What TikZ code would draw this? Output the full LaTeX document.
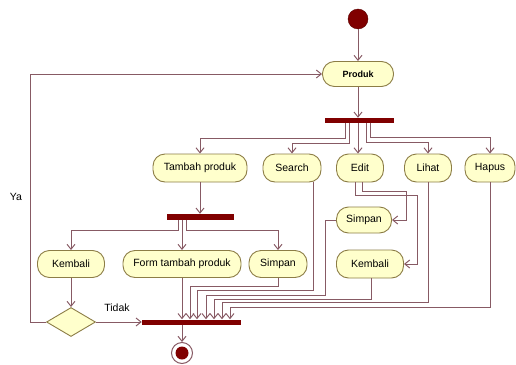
\documentclass[tikz,border=0pt]{standalone}
\usepackage{fontspec}
\setmainfont{Liberation Sans}
\usetikzlibrary{arrows.meta,shapes.geometric}
\definecolor{nfill}{RGB}{255,255,204}
\definecolor{nedge}{RGB}{140,125,70}
\definecolor{lcol}{RGB}{135,90,100}
\definecolor{barc}{RGB}{128,0,0}
\begin{document}
\begin{tikzpicture}[x=1pt,y=-1pt,
  act/.style={draw=nedge,fill=nfill,line width=0.9pt,rounded corners=12pt,
    minimum height=28pt,inner sep=0pt,font=\fontsize{10.5}{12}\selectfont},
  bar/.style={fill=barc,draw=none,minimum height=5pt,inner sep=0pt},
  flow/.style={draw=lcol,line width=1pt,-{Straight Barb[length=5pt,width=8pt]}},
  lbl/.style={font=\fontsize{10.5}{12}\selectfont,inner sep=0pt}]
\useasboundingbox (0,0) rectangle (516,364);
% nodes
\node[circle,fill=barc,draw=barc!70!black,minimum size=20pt,inner sep=0pt] (start) at (358,19) {};
\node[act,minimum width=71pt,minimum height=25pt,font=\fontsize{9}{11}\selectfont\bfseries] (produk) at (358,74) {Produk};
\node[bar,minimum width=69pt] (bar1) at (359,120.5) {};
\node[act,minimum width=94pt] (tambah) at (200,168) {Tambah produk};
\node[act,minimum width=58pt] (search) at (292,168) {Search};
\node[act,minimum width=47pt] (edit) at (360,168) {Edit};
\node[act,minimum width=47pt] (lihat) at (428,168) {Lihat};
\node[act,minimum width=50pt] (hapus) at (490,168) {Hapus};
\node[bar,minimum width=67pt,minimum height=6pt] (bar2) at (200,217) {};
\node[act,minimum width=67pt,minimum height=27pt] (kembali1) at (71,264) {Kembali};
\node[act,minimum width=118pt,minimum height=27pt] (form) at (182,264) {Form tambah produk};
\node[act,minimum width=58pt,minimum height=27pt] (simpan1) at (278,264) {Simpan};
\node[act,minimum width=55pt,minimum height=26pt] (simpan2) at (364,220) {Simpan};
\node[act,minimum width=67pt] (kembali2) at (370,264) {Kembali};
\node[diamond,draw=nedge,fill=nfill,line width=0.9pt,minimum width=49pt,minimum height=29pt,inner sep=0pt] (dec) at (71,322) {};
\node[bar,minimum width=99pt] (bar3) at (191.5,322) {};
\node[circle,draw=lcol,line width=1pt,fill=white,minimum size=21pt,inner sep=0pt] (end) at (182,353) {};
\node[circle,fill=barc,minimum size=13pt,inner sep=0pt] (endin) at (end.center) {};
\node[lbl] (ya) at (16,197) {Ya};
\node[lbl] (tidak) at (117,308) {Tidak};
% connectors
\draw[flow] (start) -- (produk);
\draw[flow] (produk.south) -- (produk.south |- bar1.north);
\draw[flow] (bar1.south -| 345,0) -- (345,138) -| (tambah.north);
\draw[flow] (bar1.south -| 349,0) -- (349,143) -| (search.north);
\draw[flow] (bar1.south -| 358,0) -- (edit.north -| 358,0);
\draw[flow] (bar1.south -| 366,0) -- (366,142) -| (lihat.north);
\draw[flow] (bar1.south -| 370,0) -- (370,137) -| (hapus.north);
\draw[flow] (tambah.south) -- (tambah.south |- bar2.north);
\draw[flow] (bar2.south -| 178,0) -- (178,230) -| (kembali1.north);
\draw[flow] (bar2.south -| form.north) -- (form.north);
\draw[flow] (bar2.south -| 186,0) -- (186,230) -| (simpan1.north);
\draw[flow] (edit.south -| 362,0) -- (362,191) -- (406,191) |- (simpan2.east);
\draw[flow] (edit.south -| 355,0) -- (355,195) -- (417,195) |- (kembali2.east);
\draw[flow] (form.south) -- (form.south |- bar3.north);
\draw[flow] (simpan1.south) -- (278,286) -| (bar3.north -| 190,0);
\draw[flow] (search.south -| 313,0) -- (313,290) -| (bar3.north -| 197,0);
\draw[flow] (simpan2.west) -- (325,220) -- (325,295) -| (bar3.north -| 206,0);
\draw[flow] (kembali2.south -| 371,0) -- (371,299) -| (bar3.north -| 214,0);
\draw[flow] (lihat.south) -- (lihat.south |- 0,302) -| (bar3.north -| 222,0);
\draw[flow] (hapus.south) -- (hapus.south |- 0,307) -| (bar3.north -| 230,0);
\draw[flow] (kembali1.south) -- (dec.north);
\draw[flow] (dec.west) -- (30,322) -- (30,74) -- (produk.west);
\draw[flow] (dec.east) -- (bar3.west);
\draw[flow] (bar3.south -| end.north) -- (end.north);
\end{tikzpicture}
\end{document}
